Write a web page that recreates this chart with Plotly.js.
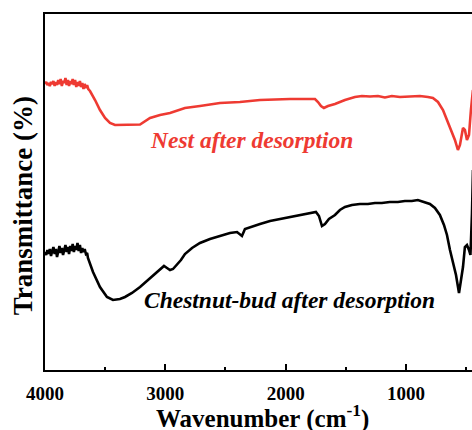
<!DOCTYPE html>
<html>
<head>
<meta charset="utf-8">
<script src="https://cdn.plot.ly/plotly-3.0.1.min.js"></script>
<style>html,body{margin:0;padding:0;background:#fff;}#chart{width:472px;height:430px;}</style>
</head>
<body>
<div id="chart"></div>
<script>
// Wavenumber (cm-1) and transmittance (arbitrary units, offset spectra)
const nestWavenumber = [4000,3990,3980,3970,3960,3950,3940,3930,3920,3910,3900,3890,3880,3870,3860,3850,3840,3830,3820,3810,3800,3790,3780,3770,3760,3750,3740,3730,3720,3710,3700,3690,3680,3670,3660,3650,3640,3626,3584,3543,3501,3460,3418,3294,3210,3127,3044,2961,2837,2712,2546,2380,2213,1964,1756,1731,1706,1682,1648,1590,1507,1424,1366,1299,1233,1175,1117,1050,967,884,817,776,734,692,659,626,593,568,551,526,510,493,476,460,443];
const nestT = [286,288,285,287,284,288,286,289,284,288,285,290,286,291,284,289,287,292,285,290,284,289,286,291,285,290,283,288,284,289,283,287,281,286,282,285,281,279,270,260,252,247,245,245,245.5,252,255,257,262,264,267,268,270,271,271,268,264,262,264,266,270,273,274,273.5,274,272.5,274,273,273.5,274,273,272,268,260,250,240,230,220,225,242,240,230,235,260,280];

const chestnutWavenumber = [4000,3990,3980,3970,3960,3950,3940,3930,3920,3910,3900,3890,3880,3870,3860,3850,3840,3830,3820,3810,3800,3790,3780,3770,3760,3750,3740,3730,3720,3710,3700,3690,3680,3670,3660,3650,3643,3601,3543,3485,3435,3377,3335,3277,3210,3144,3086,3044,3011,2986,2961,2936,2903,2870,2837,2778,2712,2629,2546,2463,2404,2380,2363,2338,2280,2213,2130,2047,1964,1881,1798,1748,1723,1698,1673,1640,1590,1549,1507,1449,1383,1316,1258,1200,1134,1067,1009,951,901,851,801,759,718,684,659,634,609,584,559,543,526,510,493,476,464,451,443];
const chestnutT = [118,115,120,116,121,114,119,123,116,121,113,119,124,117,122,115,121,125,118,123,116,124,119,126,118,124,120,127,119,125,117,122,118,121,116,117,112,98,83,73,70,71,73,77,83,90,97,101,104,102,100,101,105,110,116,122,127,131,134,137,138,136,134,141,143,146,149,151,153,155,157,158,154,144,146,151,155,160,163,165,166,166,167,167,168,168,169,169,170,168,166,162,155,145,135,120,107,95,77,90,103,123,125,120,115,157,200];

const xTickVals = [4000,3000,2000,1000];
const xTickText = ['4000','3000','2000','1000'];
const nestLabel = 'Nest after desorption';
const chestnutLabel = 'Chestnut-bud after desorption';

const serif = 'Liberation Serif';

const traces = [
  {x: nestWavenumber, y: nestT, type: 'scatter', mode: 'lines',
   line: {color: '#ee3a32', width: 2.6}, hoverinfo: 'skip'},
  {x: chestnutWavenumber, y: chestnutT, type: 'scatter', mode: 'lines',
   line: {color: '#000000', width: 2.6}, hoverinfo: 'skip'}
];

const layout = {
  width: 472, height: 430,
  margin: {l: 45, r: 0, t: 14, b: 60},
  paper_bgcolor: '#ffffff', plot_bgcolor: '#ffffff',
  showlegend: false,
  font: {family: serif},
  xaxis: {
    range: [4000, 451], showgrid: false, zeroline: false,
    showline: true, linecolor: '#000', linewidth: 2, mirror: true,
    tickvals: xTickVals, ticktext: xTickText,
    ticks: 'inside', ticklen: 6, tickwidth: 2, tickcolor: '#000',
    minor: {dtick: 500, tick0: 0, ticks: 'inside', ticklen: 3, tickwidth: 2, tickcolor: '#000', showgrid: false},
    tickfont: {family: serif, size: 19, color: '#000', weight: 'bold'},
    ticklabelstandoff: 5
  },
  yaxis: {
    range: [0, 356], showgrid: false, zeroline: false,
    showline: true, linecolor: '#000', linewidth: 2, mirror: false,
    showticklabels: false, ticks: ''
  },
  annotations: [
    {text: nestLabel, x: 2280, y: 230, xref: 'x', yref: 'y', showarrow: false,
     font: {family: serif, size: 23.5, color: '#ee3a32', weight: 'bold', style: 'italic'}},
    {text: chestnutLabel, x: 1972, y: 70, xref: 'x', yref: 'y', showarrow: false,
     font: {family: serif, size: 23.5, color: '#000', weight: 'bold', style: 'italic'}},
    {text: 'Wavenumber (cm<sup>-1</sup>)', x: 0.51, y: 0, xref: 'paper', yref: 'paper',
     yanchor: 'middle', yshift: -46, showarrow: false,
     font: {family: serif, size: 25, color: '#000', weight: 'bold'}},
    {text: 'Transmittance (%)', x: 0, y: 0.46, xref: 'paper', yref: 'paper',
     xanchor: 'center', yanchor: 'middle', xshift: -22, textangle: -90, showarrow: false,
     font: {family: serif, size: 27, color: '#000', weight: 'bold'}}
  ]
};

Plotly.newPlot('chart', traces, layout, {staticPlot: true, displayModeBar: false});
</script>
</body>
</html>
